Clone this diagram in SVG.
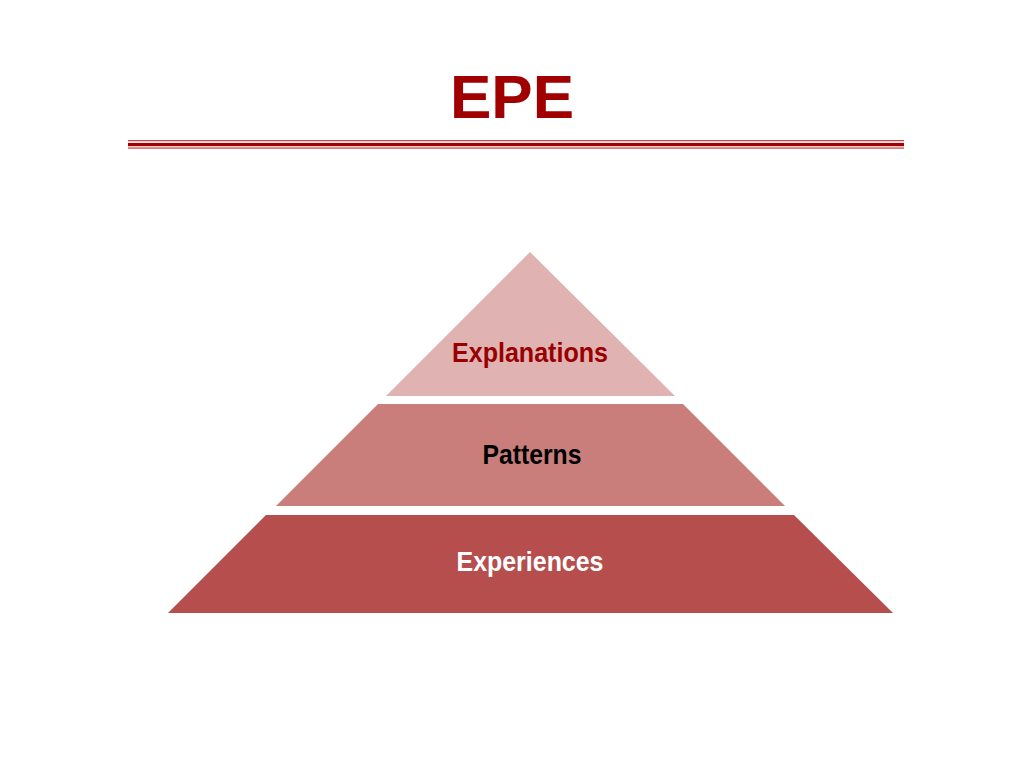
<svg xmlns="http://www.w3.org/2000/svg" width="1024" height="768" viewBox="0 0 1024 768">
<style>
.lbl{font-family:"Liberation Sans",Arial,sans-serif;font-weight:bold;font-size:28px;text-anchor:middle}
</style>
<rect width="1024" height="768" fill="#ffffff"/>
<text x="512" y="118" font-family="'Liberation Sans',Arial,sans-serif" font-weight="bold" font-size="62" fill="#a00000" text-anchor="middle">EPE</text>
<g id="rule">
<rect x="128" y="140" width="776" height="1" fill="#c44"/>
<rect x="128" y="141" width="776" height="1.5" fill="#f0c8c8"/>
<rect x="128" y="143" width="776" height="3" fill="#a00000"/>
<rect x="128" y="146" width="776" height="1.5" fill="#f0c8c8"/>
<rect x="128" y="147.5" width="776" height="1.2" fill="#c44"/>
</g>
<g id="explanations">
<polygon points="530,252 675,396 386,396" fill="#e0b3b2"/>
<text class="lbl" x="530" y="362" fill="#990000" textLength="156" lengthAdjust="spacingAndGlyphs">Explanations</text>
</g>
<g id="patterns">
<polygon points="378,404 683,404 785,506 276,506" fill="#c97e7b"/>
<text class="lbl" x="532" y="464" fill="#000000" textLength="99" lengthAdjust="spacingAndGlyphs">Patterns</text>
</g>
<g id="experiences">
<polygon points="266,515 794,515 893,613 168,613" fill="#b54e4d"/>
<text class="lbl" x="530" y="571" fill="#ffffff" textLength="147" lengthAdjust="spacingAndGlyphs">Experiences</text>
</g>
<g id="connectors"/>
</svg>
